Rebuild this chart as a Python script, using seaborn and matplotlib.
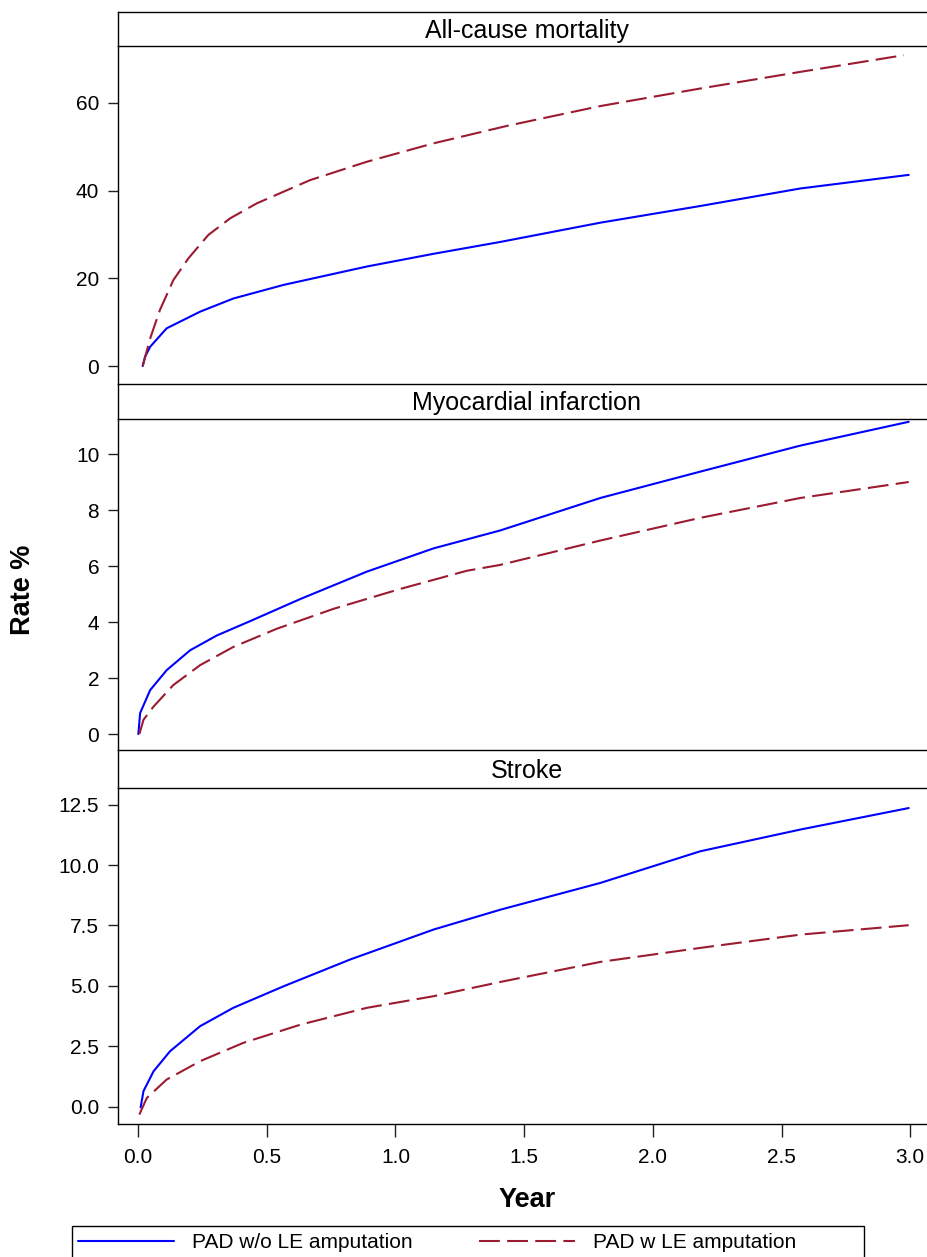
import pandas as pd
import matplotlib
matplotlib.use("Agg")
import matplotlib.pyplot as plt
import matplotlib.patches as patches
import seaborn as sns

# data -------------------------------------------------------------------------
groups = ["PAD w/o LE amputation", "PAD w LE amputation"]
outcomes = ["All-cause mortality", "Myocardial infarction", "Stroke"]

acm_wo_x = [0.018, 0.027, 0.047, 0.111, 0.241, 0.370, 0.565, 0.889, 1.148, 1.407, 1.796, 2.184, 2.573, 2.994]
acm_wo_y = [0.0, 2.1, 4.4, 8.6, 12.4, 15.4, 18.5, 22.7, 25.6, 28.3, 32.7, 36.5, 40.5, 43.6]
acm_w_x = [0.018, 0.047, 0.085, 0.137, 0.196, 0.273, 0.358, 0.461, 0.668, 0.889, 1.148, 1.435, 1.796, 2.184, 2.573, 2.975]
acm_w_y = [0.0, 6.3, 12.8, 19.6, 24.6, 29.9, 33.7, 37.1, 42.4, 46.6, 50.8, 54.8, 59.3, 63.3, 67.1, 70.9]

mi_wo_x = [0.001, 0.008, 0.047, 0.111, 0.202, 0.306, 0.435, 0.630, 0.889, 1.148, 1.407, 1.796, 2.184, 2.573, 2.994]
mi_wo_y = [0.0, 0.75, 1.57, 2.28, 2.99, 3.52, 4.03, 4.82, 5.80, 6.63, 7.27, 8.43, 9.37, 10.30, 11.15]
mi_w_x = [0.005, 0.021, 0.06, 0.137, 0.241, 0.370, 0.539, 0.759, 1.018, 1.277, 1.407, 1.796, 2.184, 2.573, 2.994]
mi_w_y = [0.0, 0.51, 0.98, 1.75, 2.46, 3.11, 3.76, 4.47, 5.18, 5.83, 6.04, 6.91, 7.72, 8.43, 9.0]

st_wo_x = [0.01, 0.021, 0.06, 0.124, 0.241, 0.370, 0.565, 0.824, 1.148, 1.407, 1.796, 2.184, 2.573, 2.994]
st_wo_y = [-0.03, 0.64, 1.46, 2.29, 3.33, 4.09, 4.98, 6.09, 7.33, 8.15, 9.26, 10.57, 11.47, 12.36]
st_w_x = [0.005, 0.034, 0.111, 0.241, 0.409, 0.630, 0.889, 1.148, 1.407, 1.796, 2.184, 2.573, 2.994]
st_w_y = [-0.33, 0.36, 1.12, 1.88, 2.64, 3.39, 4.09, 4.57, 5.16, 5.99, 6.57, 7.12, 7.51]

x_ticks = [0.0, 0.5, 1.0, 1.5, 2.0, 2.5, 3.0]
y_ticks = [[0, 20, 40, 60], [0, 2, 4, 6, 8, 10], [0.0, 2.5, 5.0, 7.5, 10.0, 12.5]]

series = [
    (outcomes[0], groups[0], acm_wo_x, acm_wo_y), (outcomes[0], groups[1], acm_w_x, acm_w_y),
    (outcomes[1], groups[0], mi_wo_x, mi_wo_y), (outcomes[1], groups[1], mi_w_x, mi_w_y),
    (outcomes[2], groups[0], st_wo_x, st_wo_y), (outcomes[2], groups[1], st_w_x, st_w_y),
]
rows = []
for outc, grp, xs, ys in series:
    for xv, yv in zip(xs, ys):
        rows.append({"Outcome": outc, "Group": grp, "Year": xv, "Rate": yv})
df = pd.DataFrame(rows)

# styling ----------------------------------------------------------------------
sns.set_theme(style="ticks")
plt.rcParams["font.family"] = ["Liberation Sans", "DejaVu Sans"]
plt.rcParams["axes.linewidth"] = 1.0
for k in ["text.color", "axes.labelcolor", "xtick.color", "ytick.color", "axes.edgecolor"]:
    plt.rcParams[k] = "black"

palette = {groups[0]: "#0000FF", groups[1]: "#9B1B30"}
dashes = {groups[0]: "", groups[1]: (10, 3.5)}

W, H = 927, 1257
fig = plt.figure(figsize=(W / 100, H / 100), dpi=100)

left_px, right_px = 118, 936
panels_px = [(46, 384), (419, 750), (788, 1124)]
strips_px = [(12, 46), (384, 419), (750, 788)]
ylims = [(-4.1, 73.0), (-0.57, 11.25), (-0.72, 13.19)]
xlim = (-0.078, 3.10)


def fx(px):
    return px / W


def fy(px):
    return 1 - px / H


handles = labels = None
for i, outc in enumerate(outcomes):
    top, bot = panels_px[i]
    ax = fig.add_axes([fx(left_px), fy(bot), fx(right_px - left_px), (bot - top) / H])
    sub = df[df["Outcome"] == outc]
    sns.lineplot(data=sub, x="Year", y="Rate", hue="Group", style="Group",
                 palette=palette, dashes=dashes, hue_order=groups, style_order=groups,
                 estimator=None, linewidth=1.5, ax=ax, legend=(i == 0))
    if i == 0:
        handles, labels = ax.get_legend_handles_labels()
        ax.get_legend().remove()
    ax.set_xlim(*xlim)
    ax.set_ylim(*ylims[i])
    ax.set_yticks(y_ticks[i])
    ax.set_xlabel("")
    ax.set_ylabel("")
    ax.spines["top"].set_visible(False)
    ax.spines["right"].set_visible(False)
    ax.tick_params(axis="y", length=7.5, width=1, labelsize=15, pad=6, colors="#222222", labelcolor="black")
    if i < 2:
        ax.spines["bottom"].set_visible(False)
        ax.set_xticks([])
    else:
        ax.set_xticks(x_ticks)
        ax.set_xticklabels([f"{t:.1f}" for t in x_ticks])
        ax.tick_params(axis="x", length=9, width=1, labelsize=15, pad=8, colors="#222222", labelcolor="black")

    # strip with the panel title
    stop, sbot = strips_px[i]
    sax = fig.add_axes([fx(left_px), fy(sbot), fx(right_px - left_px), (sbot - stop) / H])
    sax.set_xticks([])
    sax.set_yticks([])
    sax.spines["right"].set_visible(False)
    sax.text(0.5, 0.45, outc, ha="center", va="center", fontsize=18, transform=sax.transAxes)

fig.text(fx(23), fy(590), "Rate %", rotation=90, ha="center", va="center",
         fontsize=19.5, fontweight="bold")
fig.text(fx(527), fy(1200), "Year", ha="center", va="center", fontsize=19.5, fontweight="bold")

# legend box (wider than its entries, runs off the bottom edge)
box = patches.Rectangle((fx(72), fy(1262)), fx(864 - 72), (1262 - 1226) / H,
                        transform=fig.transFigure, fill=False, edgecolor="black",
                        linewidth=1.0, clip_on=False)
fig.patches.append(box)

leg = fig.legend(handles, labels, loc="center left", bbox_to_anchor=(fx(72), fy(1243)),
                 ncol=2, fontsize=15, frameon=False, borderpad=0.3, handlelength=4.6,
                 handletextpad=0.85, columnspacing=3.2, borderaxespad=0)

fig.savefig("out.png", dpi=100)
